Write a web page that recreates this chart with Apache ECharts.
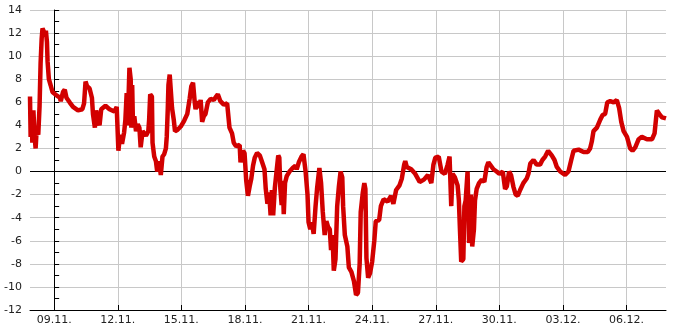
<!DOCTYPE html>
<html>
<head>
<meta charset="utf-8">
<script src="https://cdn.jsdelivr.net/npm/echarts@6/dist/echarts.min.js"></script>
<style>html,body{margin:0;padding:0;background:#fff}#c{width:685px;height:330px}</style>
</head>
<body>
<div id="c"></div>
<script>
// x: days since 09.11. 00:00
var days = [-1.14,-1.11,-1.06,-1.03,-0.98,-0.92,-0.875,-0.83,-0.75,-0.69,-0.64,-0.59,-0.55,-0.45,-0.39,-0.34,-0.31,-0.25,-0.17,-0.08,
0.11,0.27,0.31,0.42,0.5,0.58,0.73,0.89,1.125,1.33,1.41,1.48,1.55,1.67,1.78,1.83,1.92,1.98,2.06,2.14,2.22,2.42,2.61,2.84,2.95,
3.03,3.11,3.2,3.3,3.36,3.42,3.47,3.55,3.61,3.64,3.68,3.72,3.78,3.86,3.94,4.02,4.08,4.17,4.33,4.44,4.48,4.53,4.61,4.64,4.72,4.8,4.86,4.95,
5.03,5.11,5.19,5.27,5.31,5.36,5.39,5.45,5.52,5.56,5.64,5.7,5.81,5.97,6.13,6.28,6.39,6.47,6.55,6.63,6.67,6.75,6.83,6.91,6.98,
7.06,7.14,7.25,7.38,7.53,7.64,7.72,7.84,8.0,8.16,8.23,8.27,8.39,8.47,8.58,8.67,8.75,8.79,8.9,8.98,
9.06,9.14,9.22,9.3,9.38,9.46,9.57,9.7,9.81,9.92,9.98,10.06,10.14,10.21,10.27,10.33,10.41,10.49,10.57,10.62,10.67,10.73,10.78,10.83,10.89,10.97,
11.1,11.25,11.38,11.44,11.54,11.67,11.76,11.86,11.95,12.0,12.08,12.16,12.24,12.33,12.4,12.51,12.59,12.67,12.76,12.84,12.92,
13.0,13.06,13.13,13.19,13.27,13.35,13.43,13.51,13.59,13.63,13.71,13.83,13.9,14.02,14.14,14.24,14.33,14.41,14.46,14.56,14.63,14.68,14.73,14.81,14.9,
15.0,15.1,15.17,15.33,15.41,15.54,15.73,15.89,16.0,16.13,16.29,16.4,16.51,16.56,16.63,16.84,17.03,17.24,17.44,17.63,17.79,17.89,17.98,
18.14,18.27,18.43,18.56,18.65,18.73,18.79,18.9,19.03,19.09,19.14,19.2,19.3,19.35,19.41,19.5,19.57,19.65,19.72,19.8,19.85,19.93,
20.04,20.17,20.29,20.4,20.48,20.56,20.72,20.87,21.0,21.16,21.27,21.35,21.46,21.55,21.66,21.77,21.87,21.98,
22.13,22.29,22.37,22.46,22.61,22.76,22.92,23.03,23.16,23.3,23.47,23.6,23.71,23.87,24.1,24.26,24.39,24.5,24.74,24.97,
25.17,25.28,25.36,25.44,25.6,25.76,25.87,25.99,26.09,26.23,26.39,26.54,26.65,26.75,26.86,27.02,27.17,27.28,27.41,27.57,27.72,27.96,
28.2,28.32,28.43,28.54,28.67,28.86];
var values = [6.5,3.0,5.3,2.5,5.3,3.0,2.0,3.5,3.2,5.6,9.4,11.5,12.4,12.0,12.2,11.2,9.5,8.0,7.5,6.9,
6.6,6.4,6.1,6.9,7.1,6.4,6.0,5.6,5.3,5.4,5.9,7.8,7.4,7.2,6.4,5.0,3.8,5.3,4.6,4.0,5.4,5.7,5.4,5.2,5.6,
1.8,3.2,2.4,3.4,4.5,6.8,4.0,9.0,8.0,3.8,7.5,3.8,4.8,3.5,4.1,3.8,2.1,3.5,3.1,3.5,4.5,6.7,6.5,2.5,1.3,0.9,0.0,0.9,
-0.3,1.3,1.5,2.0,3.0,5.5,7.5,8.4,8.4,5.5,4.5,3.5,3.6,3.9,4.4,5.0,6.3,7.4,7.7,6.0,5.4,6.1,5.5,6.2,4.3,
4.8,5.0,6.0,6.3,6.2,6.5,6.7,6.1,5.8,5.9,5.9,3.8,3.3,2.5,2.2,2.3,2.3,0.8,1.8,1.6,
-0.8,-2.1,-1.3,-0.6,0.5,1.2,1.6,1.4,0.8,0.2,-1.5,-2.8,-1.8,-3.8,-1.6,-3.8,-1.4,0.0,1.4,1.2,-1.5,-2.9,-0.8,-3.7,-1.0,-0.4,
0.0,0.3,0.5,0.2,0.8,1.3,1.5,0.0,-2.0,-4.4,-5.0,-4.4,-5.4,-3.0,-1.5,0.3,-1.0,-3.5,-5.5,-4.3,-4.8,
-5.0,-6.8,-5.5,-8.6,-7.6,-3.0,-1.3,0.0,-0.5,-3.0,-5.5,-6.5,-8.3,-8.7,-9.5,-10.7,-10.5,-8.0,-3.5,-1.8,-1.0,-1.5,-7.5,-9.2,-8.8,
-7.8,-6.0,-4.3,-4.2,-3.0,-2.4,-2.6,-2.1,-2.8,-1.6,-1.2,-0.6,0.6,0.9,0.4,0.2,-0.2,-0.9,-0.7,-0.3,-1.0,0.6,1.2,
1.3,0.0,-0.2,0.6,1.3,-3.0,-0.2,-0.5,-1.2,-2.5,-5.0,-7.8,-7.6,-3.0,-2.5,0.0,-6.2,-2.0,-6.5,-5.0,-2.5,-1.5,
-1.0,-0.7,-0.9,0.4,0.8,0.6,0.2,0.0,-0.2,0.0,-1.5,-1.3,0.0,-0.3,-1.3,-2.0,-2.1,-1.6,
-1.0,-0.6,-0.2,0.7,1.0,0.6,0.6,1.0,1.3,1.8,1.4,1.0,0.4,0.0,-0.3,0.0,1.0,1.8,1.9,1.7,
1.7,2.0,2.6,3.5,3.8,4.5,4.9,5.0,6.0,6.1,6.0,6.2,5.5,4.3,3.5,3.0,2.0,1.8,2.1,2.8,3.0,2.8,
2.8,3.3,5.3,5.0,4.7,4.6];
var tickDays = [0,3,6,9,12,15,18,21,24,27];
var tickLabels = ['09.11.','12.11.','15.11.','18.11.','21.11.','24.11.','27.11.','30.11.','03.12.','06.12.'];

var seriesData = days.map(function(d,i){return [d, values[i]];});
var chart = echarts.init(document.getElementById('c'), null, {renderer:'canvas'});
var font = 'DejaVu Sans';
chart.setOption({
  animation:false,
  grid:{left:30,right:19,top:10,bottom:20,containLabel:false},
  xAxis:{
    type:'value', min:-1.14, max:28.86,
    axisLine:{onZero:false, lineStyle:{color:'#000',width:1}},
    axisTick:{show:true, inside:true, length:5, lineStyle:{color:'#000'}, customValues:tickDays},
    axisLabel:{customValues:tickDays, color:'#222', fontFamily:font, fontSize:11, margin:5,
      formatter:function(v){var i=tickDays.indexOf(Math.round(v)); return i>=0?tickLabels[i]:'';}},
    splitLine:{show:true, lineStyle:{color:'#c8c8c8',width:1}}
  },
  yAxis:{
    type:'value', min:-12, max:14, interval:2,
    axisLine:{show:true, lineStyle:{color:'#000',width:1}},
    axisTick:{show:true, inside:true, length:5, lineStyle:{color:'#000'}},
    minorTick:{show:true, splitNumber:2, length:5, lineStyle:{color:'#000'}},
    axisLabel:{color:'#222', fontFamily:font, fontSize:11, margin:8},
    splitLine:{show:true, lineStyle:{color:'#c8c8c8',width:1}}
  },
  series:[{
    type:'line', data:seriesData, showSymbol:false, symbol:'none',
    lineStyle:{color:'#d20000', width:4.5, join:'bevel'},
    markLine:{silent:true, symbol:'none', label:{show:false}, lineStyle:{color:'#000',width:1,type:'solid'},
      data:[{yAxis:0}], animation:false, z:1}
  }]
});
</script>
</body>
</html>
